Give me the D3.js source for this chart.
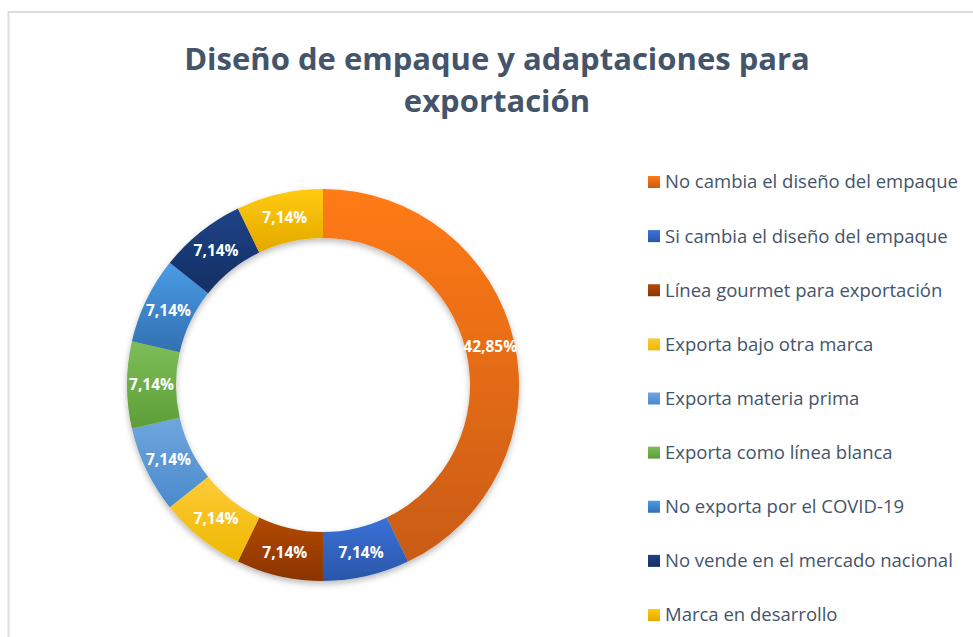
<!DOCTYPE html>
<html>
<head>
<meta charset="utf-8">
<script src="https://cdn.jsdelivr.net/npm/d3@7"></script>
<style>
  html, body { margin: 0; padding: 0; background: #fff; }
  svg { display: block; }
</style>
</head>
<body>
<svg id="chart" width="973" height="637"></svg>
<script>
// Categories and their shares (%)
const categories = [
  "No cambia el diseño del empaque",
  "Si cambia el diseño del empaque",
  "Línea gourmet para exportación",
  "Exporta bajo otra marca",
  "Exporta materia prima",
  "Exporta como línea blanca",
  "No exporta por el COVID-19",
  "No vende en el mercado nacional",
  "Marca en desarrollo"
];
const values = [42.85, 7.14, 7.14, 7.14, 7.14, 7.14, 7.14, 7.14, 7.14];
const labels = ["42,85%", "7,14%", "7,14%", "7,14%", "7,14%", "7,14%", "7,14%", "7,14%", "7,14%"];
// Top / bottom colours of each slice's vertical gradient
const colorsTop = ["#FF7B17", "#3A72D8", "#B24A06", "#FFCB3A", "#70A6DE", "#7DBE58", "#4A9CE6", "#1D4388", "#FFCB0C"];
const colorsBottom = ["#C95B12", "#2A56A8", "#8A3402", "#EDB800", "#4A8ACC", "#5E9E38", "#3270B0", "#152F62", "#E3A800"];

const title = ["Diseño de empaque y adaptaciones para", "exportación"];

const svg = d3.select("#chart");
const W = 973, H = 637;

// Chart area frame
svg.append("rect")
  .attr("x", 8.5).attr("y", 12)
  .attr("width", W + 10).attr("height", H + 10)
  .attr("fill", "#fff")
  .attr("stroke", "#D9DEE4").attr("stroke-width", 2);

// Title
const titleG = svg.append("text")
  .attr("text-anchor", "middle")
  .attr("font-family", "'Open Sans', Lato, sans-serif")
  .attr("font-weight", "bold")
  .attr("font-size", 31)
  .attr("fill", "#44546A");
titleG.selectAll("tspan").data(title).join("tspan")
  .attr("x", 497)
  .attr("y", (d, i) => 70 + i * 42)
  .text(d => d);

// Donut geometry
const cx = 323, cy = 385, rOuter = 196, rInner = 147;

const defs = svg.append("defs");
const shadow = defs.append("filter").attr("id", "shadow")
  .attr("x", "-20%").attr("y", "-20%").attr("width", "140%").attr("height", "140%");
shadow.append("feDropShadow")
  .attr("dx", 0).attr("dy", 3).attr("stdDeviation", 3)
  .attr("flood-color", "#000").attr("flood-opacity", 0.28);

const pie = d3.pie().value(d => d).sort(null);
const arcs = pie(values);
const arc = d3.arc().innerRadius(rInner).outerRadius(rOuter);

const g = svg.append("g").attr("transform", `translate(${cx},${cy})`);

// One vertical gradient per slice, spanning the slice's own bounding box
function addGradient(id, i) {
  const grad = defs.append("linearGradient")
    .attr("id", id)
    .attr("x1", 0).attr("y1", 0).attr("x2", 0).attr("y2", 1);
  grad.append("stop").attr("offset", "0%").attr("stop-color", colorsTop[i]);
  grad.append("stop").attr("offset", "100%").attr("stop-color", colorsBottom[i]);
}
arcs.forEach((a, i) => addGradient("grad" + i, i));
categories.forEach((c, i) => addGradient("lgrad" + i, i));

const ring = g.append("g").attr("filter", "url(#shadow)");
ring.selectAll("path").data(arcs).join("path")
  .attr("d", arc)
  .attr("fill", (d, i) => `url(#grad${i})`);

// Value labels at slice centroids
g.selectAll("text.val").data(arcs).join("text")
  .attr("class", "val")
  .attr("transform", d => `translate(${arc.centroid(d)})`)
  .attr("text-anchor", "middle")
  .attr("dy", "0.35em")
  .attr("font-family", "'Open Sans', Lato, sans-serif")
  .attr("font-weight", "bold")
  .attr("font-size", 15.5)
  .attr("fill", "#fff")
  .text((d, i) => labels[i]);

// Legend
const legendY = d3.scalePoint().domain(categories).range([182, 615]);
const legend = svg.append("g");
const items = legend.selectAll("g").data(categories).join("g")
  .attr("transform", d => `translate(648,${legendY(d)})`);
items.append("rect")
  .attr("x", 0).attr("y", -6)
  .attr("width", 12).attr("height", 12)
  .attr("fill", (d, i) => `url(#lgrad${i})`);
items.append("text")
  .attr("x", 17).attr("dy", "0.35em")
  .attr("font-family", "'Open Sans', Lato, sans-serif")
  .attr("font-size", 18.5)
  .attr("fill", "#44546A")
  .text(d => d);
</script>
</body>
</html>
